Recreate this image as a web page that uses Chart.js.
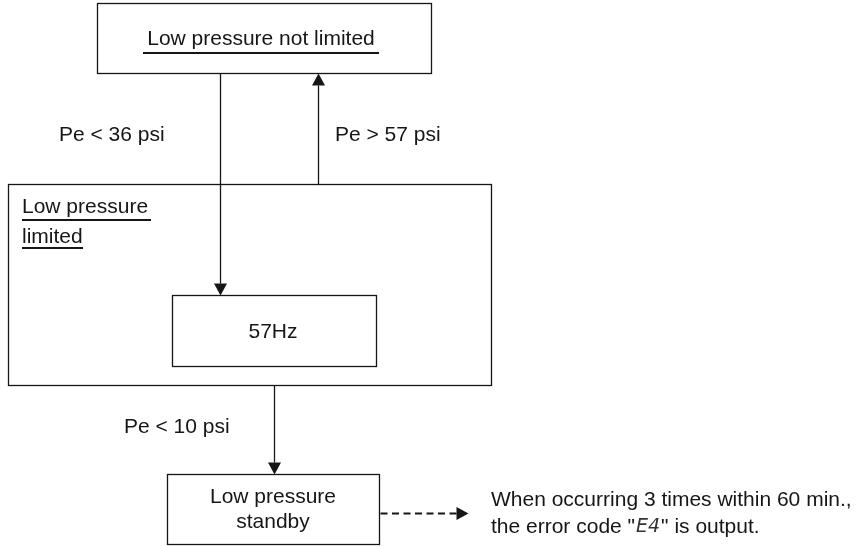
<!DOCTYPE html>
<html>
<head>
<meta charset="utf-8">
<script src="https://cdn.jsdelivr.net/npm/chart.js@4"></script>
<style>
  body { margin: 0; background: #fff; }
  #flow { display: block; }
</style>
</head>
<body>
<canvas id="flow" width="857" height="546"></canvas>
<script>
// states and transitions of the low pressure control
const stateNames = ['Low pressure not limited', 'Low pressure limited', '57Hz', 'Low pressure standby'];
const transitionLabels = ['Pe < 36 psi', 'Pe > 57 psi', 'Pe < 10 psi'];
const noteLines = ['When occurring 3 times within 60 min.,', 'the error code "', 'E4', '" is output.'];

// layout in diagram units (x 0..857, y 0..546 from the top)
const boxes = {
    notLimited: [97, 3, 431, 73],
    limited: [8, 184, 491, 385],
    hz: [172, 295, 376, 366],
    standby: [167, 474, 379, 544]
};
const arrows = [
    { from: [220, 73], to: [220, 295] },
    { from: [318, 184], to: [318, 73] },
    { from: [274, 385], to: [274, 474] },
    { from: [380, 513], to: [468, 513], dashed: true }
];

const FONT = '21px "Liberation Sans", Arial, sans-serif';
const INK = '#161616';

const flowPlugin = {
    id: 'flowPlugin',
    afterDatasetsDraw(chart) {
        const ctx = chart.ctx;
        const xs = chart.scales.x, ys = chart.scales.y;
        const px = v => xs.getPixelForValue(v);
        const py = v => ys.getPixelForValue(v);

        ctx.save();
        ctx.strokeStyle = INK;
        ctx.fillStyle = INK;
        ctx.lineWidth = 1.3;

        // boxes
        Object.values(boxes).forEach(b => {
            ctx.strokeRect(px(b[0]) + 0.5, py(b[1]) + 0.5, px(b[2]) - px(b[0]), py(b[3]) - py(b[1]));
        });

        // arrows
        arrows.forEach(a => {
            const x1 = px(a.from[0]), y1 = py(a.from[1]);
            const x2 = px(a.to[0]), y2 = py(a.to[1]);
            const ang = Math.atan2(y2 - y1, x2 - x1);
            const headLen = 12, headW = 6.5;
            ctx.setLineDash(a.dashed ? [7, 4.5] : []);
            ctx.lineWidth = a.dashed ? 1.8 : 1.3;
            ctx.beginPath();
            ctx.moveTo(x1 + 0.5, y1 + 0.5);
            ctx.lineTo(x2 - Math.cos(ang) * headLen + 0.5, y2 - Math.sin(ang) * headLen + 0.5);
            ctx.stroke();
            ctx.setLineDash([]);
            ctx.lineWidth = 1.3;
            ctx.beginPath();
            ctx.moveTo(x2 + 0.5, y2 + 0.5);
            ctx.lineTo(x2 - Math.cos(ang) * headLen - Math.sin(ang) * headW + 0.5,
                       y2 - Math.sin(ang) * headLen + Math.cos(ang) * headW + 0.5);
            ctx.lineTo(x2 - Math.cos(ang) * headLen + Math.sin(ang) * headW + 0.5,
                       y2 - Math.sin(ang) * headLen - Math.cos(ang) * headW + 0.5);
            ctx.closePath();
            ctx.fill();
        });

        ctx.font = FONT;
        ctx.textBaseline = 'alphabetic';

        function text(str, x, y, align) {
            ctx.textAlign = align || 'left';
            ctx.fillText(str, px(x), py(y));
        }
        function underline(x1, x2, y) {
            ctx.lineWidth = 2;
            ctx.beginPath();
            ctx.moveTo(px(x1), py(y));
            ctx.lineTo(px(x2), py(y));
            ctx.stroke();
            ctx.lineWidth = 1.3;
        }

        // state names
        text(stateNames[0], 261, 45, 'center');
        underline(143, 379, 53);
        const limitedWords = stateNames[1].split(' ');
        text(limitedWords.slice(0, 2).join(' '), 22, 213);
        underline(22, 151, 220);
        text(limitedWords[2], 22, 243);
        underline(22, 83, 248);
        text(stateNames[2], 273, 338, 'center');
        const standbyWords = stateNames[3].split(' ');
        text(standbyWords.slice(0, 2).join(' '), 273, 503, 'center');
        text(standbyWords[2], 273, 528, 'center');

        // transition conditions
        text(transitionLabels[0], 59, 141);
        text(transitionLabels[1], 335, 141);
        text(transitionLabels[2], 124, 433);

        // note
        text(noteLines[0], 491, 506);
        let x = px(491);
        ctx.textAlign = 'left';
        ctx.fillText(noteLines[1], x, py(533));
        x += ctx.measureText(noteLines[1]).width;
        ctx.font = 'italic 300 19px "DejaVu Sans", sans-serif';
        ctx.fillStyle = '#333';
        ctx.fillText(noteLines[2], x + 1, py(532));
        x += ctx.measureText(noteLines[2]).width + 2;
        ctx.font = FONT;
        ctx.fillStyle = INK;
        ctx.fillText(noteLines[3], x, py(533));

        ctx.restore();
    }
};

// node centres kept as an invisible dataset so the scales own the geometry
const centres = Object.values(boxes).map(b => ({ x: (b[0] + b[2]) / 2, y: (b[1] + b[3]) / 2 }));

new Chart(document.getElementById('flow'), {
    type: 'scatter',
    data: {
        datasets: [{
            label: 'states',
            data: centres,
            pointRadius: 0,
            pointHoverRadius: 0
        }]
    },
    options: {
        responsive: false,
        animation: false,
        layout: { padding: 0 },
        plugins: {
            legend: { display: false },
            tooltip: { enabled: false }
        },
        scales: {
            x: { type: 'linear', min: 0, max: 857, display: false },
            y: { type: 'linear', min: 0, max: 546, reverse: true, display: false }
        }
    },
    plugins: [flowPlugin]
});
</script>
</body>
</html>
